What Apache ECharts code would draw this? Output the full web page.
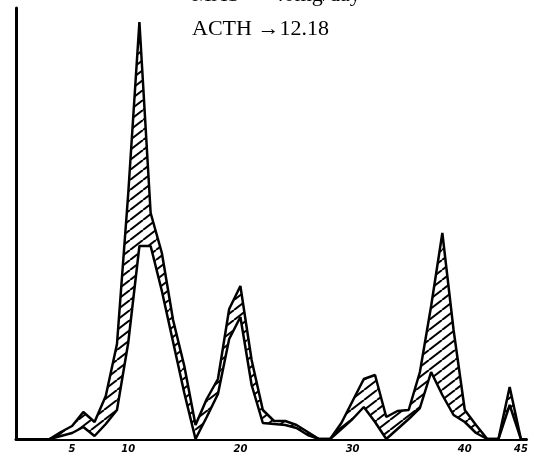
<!DOCTYPE html>
<html>
<head>
<meta charset="utf-8">
<script src="https://cdn.jsdelivr.net/npm/echarts@6/dist/echarts.min.js"></script>
<style>
  html, body { margin: 0; padding: 0; background: #fff; }
  #main { width: 534px; height: 456px; }
</style>
</head>
<body>
<div id="main"></div>
<script>
// day numbers and the two traced curves (values in chart units)
var days = [3, 4, 5, 6, 7, 8, 9, 10, 11, 12, 13, 14, 15, 16, 17, 18, 19, 20, 21, 22, 23, 24,
            25, 26, 27, 28, 29, 30, 31, 32, 33, 34, 35, 36, 37, 38, 39, 40, 41, 42, 43, 44, 45];
var upper = [0, 7, 13, 27, 17, 43, 95, 245, 417, 226, 186, 119, 73, 14, 40, 60, 130, 153, 79, 29, 18, 18,
             14, 7, 0, 0, 16, 38, 60, 64, 22, 28, 29, 67, 133, 206, 109, 29, 14, 0, 0, 52, 0];
var lower = [0, 3, 6, 12, 3, 15, 29, 96, 193, 193, 148, 97, 46, 0, 22, 45, 100, 122, 54, 16, 15, 14,
             11, 4, 0, 0, 10, 20, 32, 17, 0, 10, 20, 31, 67, 44, 24, 17, 6, 0, 0, 34, 0];
var tickLabels = [5, 10, 20, 30, 40, 45];

// hatch tile "/" lines
function hatch() {
  var w = 13, h = 10;
  var c = document.createElement('canvas');
  c.width = w; c.height = h;
  var ctx = c.getContext('2d');
  ctx.fillStyle = '#fff';
  ctx.fillRect(0, 0, w, h);
  ctx.strokeStyle = '#000';
  ctx.lineWidth = 2;
  for (var k = 0; k <= 2; k++) {
    ctx.beginPath();
    ctx.moveTo(k * w - w, h);
    ctx.lineTo(k * w, 0);
    ctx.stroke();
  }
  return c;
}

var upperData = [], lowerData = [];
for (var i = 0; i < days.length; i++) {
  upperData.push([days[i], upper[i]]);
  lowerData.push([days[i], lower[i]]);
}

var myChart = echarts.init(document.getElementById('main'));
myChart.setOption({
  animation: false,
  backgroundColor: '#fff',
  grid: { left: 16, right: 7.5, top: 8, bottom: 17 },
  xAxis: {
    type: 'value',
    min: 0,
    max: 45.5,
    interval: 5,
    axisLine: { show: true, lineStyle: { color: '#000', width: 3 } },
    axisTick: { show: false },
    splitLine: { show: false },
    axisLabel: {
      margin: 5,
      color: '#000',
      fontSize: 10,
      fontStyle: 'italic',
      fontWeight: 'bold',
      fontFamily: 'DejaVu Sans',
      formatter: function (v) { return tickLabels.indexOf(v) >= 0 ? String(v) : ''; }
    }
  },
  yAxis: {
    type: 'value',
    min: 0,
    max: 431,
    axisLine: { show: true, lineStyle: { color: '#000', width: 3 } },
    axisTick: { show: false },
    axisLabel: { show: false },
    splitLine: { show: false }
  },
  graphic: [
    { type: 'text', left: 192, top: -16,
      style: { text: 'MAS  →40mg/day', font: '22px "Liberation Serif"', fill: '#000' } },
    { type: 'text', left: 192, top: 18,
      style: { text: 'ACTH →12.18', font: '22px "Liberation Serif"', fill: '#000' } }
  ],
  series: [
    // hatched fill under the upper curve
    {
      name: 'upperFill',
      type: 'line',
      data: upperData,
      symbol: 'none',
      z: 2,
      lineStyle: { width: 0 },
      areaStyle: { color: { image: hatch(), repeat: 'repeat' }, opacity: 1 }
    },
    // white fill under the lower curve, leaves the band hatched
    {
      name: 'lower',
      type: 'line',
      data: lowerData,
      symbol: 'none',
      z: 3,
      lineStyle: { color: '#000', width: 2.5 },
      areaStyle: { color: '#fff', opacity: 1 }
    },
    {
      name: 'upper',
      type: 'line',
      data: upperData,
      symbol: 'none',
      z: 4,
      lineStyle: { color: '#000', width: 2.5 }
    }
  ]
});
</script>
</body>
</html>
